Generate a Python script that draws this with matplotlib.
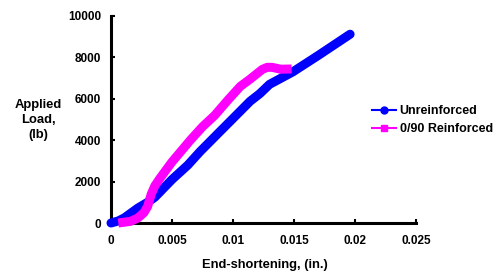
import matplotlib
matplotlib.use("Agg")
import matplotlib.pyplot as plt
from matplotlib.lines import Line2D

plt.rcParams['font.family'] = ['Liberation Sans', 'DejaVu Sans']
plt.rcParams['font.weight'] = 'bold'

# Unreinforced
unr_x = [0.0, 0.0006, 0.0011, 0.0022, 0.0030, 0.0036, 0.0050, 0.0063, 0.0073, 0.0089,
         0.0100, 0.0114, 0.0122, 0.0130, 0.0149, 0.0170, 0.0196]
unr_y = [0, 100, 250, 720, 1000, 1250, 2100, 2800, 3450, 4400,
         5050, 5880, 6250, 6700, 7300, 8100, 9120]

# 0/90 Reinforced
rei_x = [0.0006, 0.0016, 0.0022, 0.0027, 0.0030, 0.0033, 0.0036, 0.0040, 0.0045, 0.0050,
         0.0065, 0.0075, 0.0085, 0.0096, 0.0106, 0.0114, 0.0124, 0.0128, 0.0132, 0.0139, 0.0148]
rei_y = [0, 80, 240, 500, 800, 1400, 1800, 2150, 2550, 2950,
         4000, 4650, 5200, 5950, 6600, 6950, 7420, 7520, 7520, 7430, 7440]

labels = ['Unreinforced', '0/90 Reinforced']
xticks = [0, 0.005, 0.01, 0.015, 0.02, 0.025]
xticklabels = ['0', '0.005', '0.01', '0.015', '0.02', '0.025']
yticks = [0, 2000, 4000, 6000, 8000, 10000]

blue = '#0000FF'
mag = '#FF00FF'

fig = plt.figure(figsize=(4.99, 2.74), dpi=100)
ax = fig.add_axes([111/499, 1-223/274, (416-111)/499, (223-16)/274])

ax.plot(unr_x, unr_y, color=blue, lw=6.5, solid_capstyle='round', solid_joinstyle='round', clip_on=False, zorder=3)
ax.plot(rei_x, rei_y, color=mag, lw=6.5, solid_capstyle='butt', solid_joinstyle='round', clip_on=False, zorder=4)

ax.set_xlim(0, 0.025)
ax.set_ylim(0, 10000)
ax.set_xticks(xticks)
ax.set_xticklabels(xticklabels)
ax.set_yticks(yticks)
for s in ['top', 'right']:
    ax.spines[s].set_visible(False)
for s in ['left', 'bottom']:
    ax.spines[s].set_linewidth(2.2)
ax.tick_params(direction='in', length=3, width=1.5, labelsize=8.5)
ax.tick_params(axis='x', pad=9)
ax.tick_params(axis='y', pad=7)
for lab in ax.get_xticklabels() + ax.get_yticklabels():
    lab.set_fontweight('bold')

fig.text(38/499, 1-120/274, 'Applied\nLoad,\n(lb)', ha='center', va='center',
         fontsize=9.4, fontweight='bold', linespacing=1.3)
fig.text(265/499, 1-265/274, 'End-shortening, (in.)', ha='center', va='center',
         fontsize=9.3, fontweight='bold')

handles = [Line2D([], [], color=blue, lw=1.5, marker='o', markersize=5),
           Line2D([], [], color=mag, lw=1.5, marker='s', markersize=4)]
leg = fig.legend(handles, labels, loc='upper left', bbox_to_anchor=(366/499, 1-99/274),
                 frameon=False, borderpad=0, handlelength=1.9, handletextpad=0.3,
                 labelspacing=0.45, prop={'size': 9, 'weight': 'bold'})

fig.savefig('out.png', dpi=100)
